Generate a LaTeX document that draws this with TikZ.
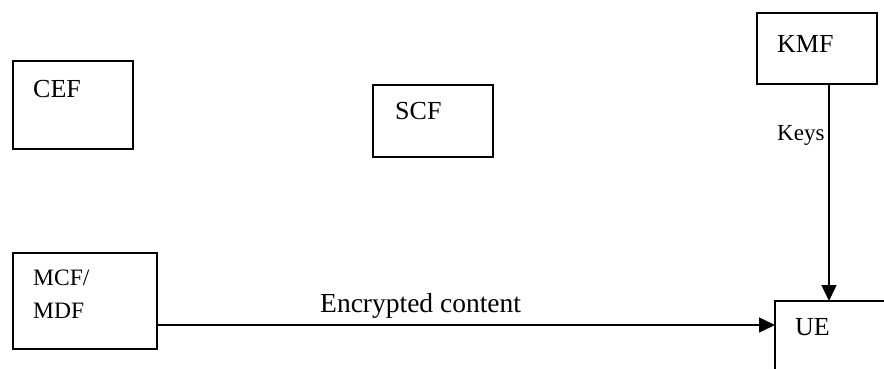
\documentclass[tikz,border=0pt]{standalone}
\usepackage{fontspec}
\setmainfont{Liberation Serif}
\usetikzlibrary{positioning, arrows.meta}

\begin{document}
\begin{tikzpicture}[x=1pt, y=-1pt,
    box/.style={draw, line width=1.5pt, anchor=north west, inner sep=0pt, outer sep=0pt},
    lbl/.style={anchor=base west, inner sep=0pt, font=\fontsize{26}{31}\selectfont},
    arr/.style={line width=1.5pt, -{Triangle[length=16pt, width=15pt]}}]
    \useasboundingbox (0,0) rectangle (884,369);
    \clip (0,0) rectangle (884,369);
    \node[box, minimum width=120pt, minimum height=88pt] (CEF) at (13,61) {};
    \node[lbl] (CEFtext) at (33,97) {CEF};
    \node[box, minimum width=120pt, minimum height=72pt] (SCF) at (373,85) {};
    \node[lbl] (SCFtext) at (395,120) {SCF};
    \node[box, minimum width=120pt, minimum height=71pt] (KMF) at (757,13) {};
    \node[lbl] (KMFtext) at (777,53) {KMF};
    \node[box, minimum width=144pt, minimum height=96pt] (MCF) at (13,253) {};
    \node[lbl, font=\fontsize{23.5}{28}\selectfont] (MCFtext) at (33,285) {MCF/};
    \node[lbl, font=\fontsize{23.5}{28}\selectfont] (MDFtext) at (33,318) {MDF};
    \node[box, minimum width=160pt, minimum height=120pt] (UE) at (775,301) {};
    \node[lbl] (UEtext) at (795,335) {UE};
    \node[lbl, font=\fontsize{27.5}{33}\selectfont] (enc) at (320,312) {Encrypted content};
    \node[lbl, font=\fontsize{23}{27}\selectfont] (keys) at (777,140) {Keys};
    \draw[arr] ([yshift=24pt]MCF.south east) -- ([yshift=-24pt]UE.north west);
    \draw[arr] ([xshift=12pt]KMF.south) -- ([xshift=12pt]KMF.south |- UE.north);
\end{tikzpicture}
\end{document}
